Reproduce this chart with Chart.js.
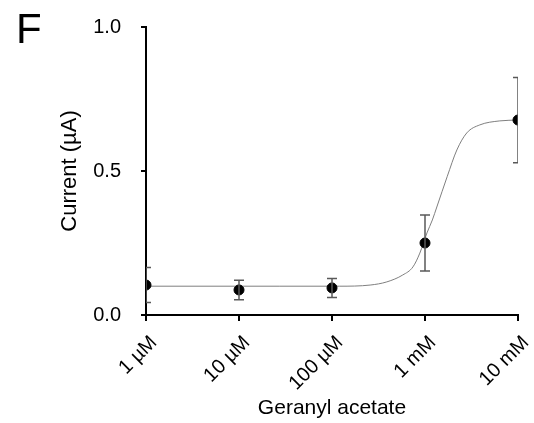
<!DOCTYPE html>
<html>
<head>
<meta charset="utf-8">
<script src="https://cdn.jsdelivr.net/npm/chart.js@4.4.0/dist/chart.umd.min.js"></script>
<style>
  html, body { margin: 0; padding: 0; background: #fff; }
  #wrap { width: 534px; height: 423px; }
</style>
</head>
<body>
<div id="wrap"><canvas id="myChart" width="534" height="423"></canvas></div>
<script>
// concentrations (µM) and their tick labels
const concUM = [1, 10, 100, 1000, 10000];
const concLabels = ['1 \u00b5M', '10 \u00b5M', '100 \u00b5M', '1 mM', '10 mM'];

// mean current (µA) and error (±)
const meanCurrent = [0.104, 0.087, 0.094, 0.25, 0.677];
const errCurrent = [0.061, 0.034, 0.033, 0.097, 0.148];

// fitted curve
const fitX = [1, 27.5, 120, 257, 389, 577, 742, 880, 1050, 1200, 1340, 1730, 2200, 2810, 3880, 6380, 10000];
const fitY = [0.1, 0.1, 0.1, 0.104, 0.115, 0.139, 0.167, 0.215, 0.285, 0.33, 0.375, 0.48, 0.573, 0.632, 0.66, 0.674, 0.677];

const yTicks = [0, 0.5, 1.0];

const FONT = 'Arial, "Liberation Sans", sans-serif';

// error bars, clipped to the plot area like the original
const errorBars = {
  id: 'errorBars',
  afterDatasetsDraw(chart) {
    const ctx = chart.ctx, x = chart.scales.x, y = chart.scales.y, a = chart.chartArea;
    ctx.save();
    ctx.beginPath();
    ctx.rect(a.left, 0, a.right - a.left, chart.height);
    ctx.clip();
    ctx.strokeStyle = '#595959';
    ctx.lineWidth = 1.5;
    concUM.forEach((c, i) => {
      const px = x.getPixelForValue(c);
      const top = y.getPixelForValue(meanCurrent[i] + errCurrent[i]);
      const bot = y.getPixelForValue(meanCurrent[i] - errCurrent[i]);
      ctx.beginPath();
      ctx.moveTo(px, top); ctx.lineTo(px, bot);
      ctx.moveTo(px - 5, top); ctx.lineTo(px + 5, top);
      ctx.moveTo(px - 5, bot); ctx.lineTo(px + 5, bot);
      ctx.stroke();
    });
    ctx.restore();
  }
};

// panel letter
const panelLetter = {
  id: 'panelLetter',
  afterDraw(chart) {
    const ctx = chart.ctx;
    ctx.save();
    ctx.fillStyle = '#000';
    ctx.font = '42px ' + FONT;
    ctx.textBaseline = 'alphabetic';
    ctx.fillText('F', 16, 43);
    ctx.restore();
  }
};

function drawChart() {
  const element = document.getElementById('myChart').getContext('2d');
  new Chart(element, {
    type: 'scatter',
    data: {
      datasets: [
        {
          label: 'mean',
          data: concUM.map((c, i) => ({ x: c, y: meanCurrent[i] })),
          backgroundColor: '#000',
          borderColor: '#000',
          pointRadius: 5,
          order: 0
        },
        {
          label: 'fit',
          type: 'line',
          data: fitX.map((c, i) => ({ x: c, y: fitY[i] })),
          borderColor: '#7f7f7f',
          borderWidth: 1,
          pointRadius: 0,
          fill: false,
          cubicInterpolationMode: 'monotone',
          order: 2
        }
      ]
    },
    options: {
      responsive: false,
      animation: false,
      layout: { padding: { left: 57, right: 16, top: 27, bottom: 2 } },
      plugins: { legend: { display: false }, tooltip: { enabled: false } },
      scales: {
        x: {
          type: 'logarithmic',
          min: 1,
          max: 10000,
          afterBuildTicks: (scale) => { scale.ticks = concUM.map(v => ({ value: v })); },
          afterFit: (scale) => {
            scale.height = 106;
            scale.paddingLeft = 0;
            scale.paddingRight = 0;
          },
          border: { display: true, color: '#000', width: 2 },
          grid: { drawOnChartArea: false, drawTicks: true, tickLength: 6, color: '#000', lineWidth: 2 },
          ticks: {
            autoSkip: false,
            minRotation: 45,
            maxRotation: 45,
            color: '#000',
            padding: 10,
            labelOffset: 8,
            font: { family: FONT, size: 20 },
            callback: (v) => concLabels[concUM.indexOf(v)]
          },
          title: {
            display: true,
            text: 'Geranyl acetate',
            color: '#000',
            padding: 0,
            font: { family: FONT, size: 21 }
          }
        },
        y: {
          min: 0,
          max: 1,
          afterBuildTicks: (scale) => { scale.ticks = yTicks.map(v => ({ value: v })); },
          afterFit: (scale) => {
            scale.width = 89;
            scale.paddingTop = 0;
            scale.paddingBottom = 0;
          },
          border: { display: true, color: '#000', width: 2 },
          grid: { drawOnChartArea: false, drawTicks: true, tickLength: 5, color: '#000', lineWidth: 2 },
          ticks: {
            color: '#000',
            padding: 20,
            font: { family: FONT, size: 20 },
            callback: (v) => v.toFixed(1)
          },
          title: {
            display: true,
            text: 'Current (\u00b5A)',
            color: '#000',
            padding: 0,
            font: { family: FONT, size: 22 }
          }
        }
      }
    },
    plugins: [errorBars, panelLetter]
  });
}

drawChart();
</script>
</body>
</html>
